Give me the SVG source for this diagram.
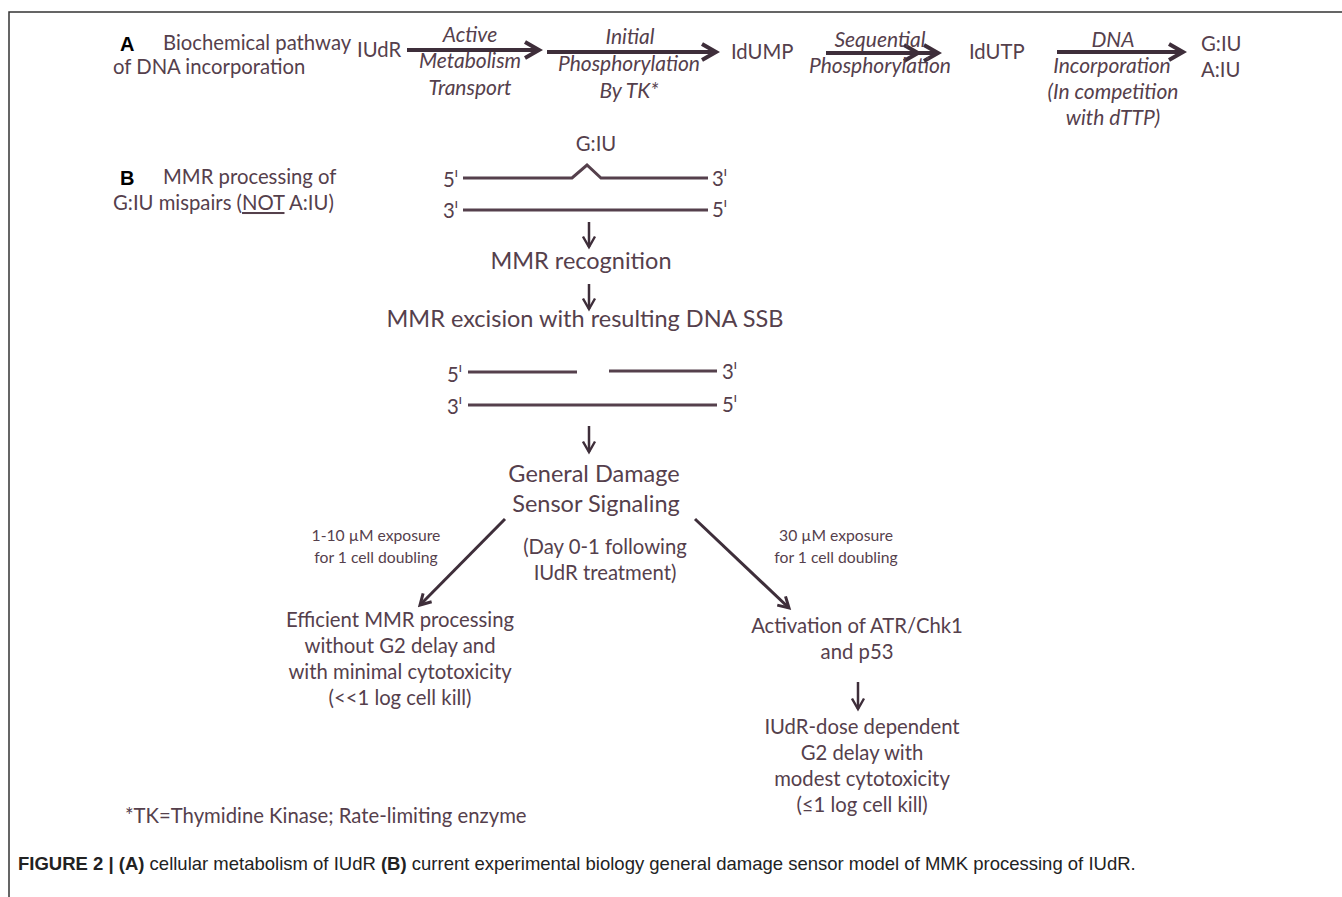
<svg xmlns="http://www.w3.org/2000/svg" width="1342" height="897" viewBox="0 0 1342 897">
<defs>
<style>
text{font-family:Lato,"Open Sans","Liberation Sans",sans-serif;fill:#55404c}
.it{font-style:italic;font-size:21px}
.n{font-size:20.3px}
.m{font-size:23.5px}
.s{font-size:15.7px}
.c{text-anchor:middle}
.lab{font-family:"Liberation Sans",Arial,sans-serif;font-weight:bold;fill:#000;font-size:20px}
.cap{font-family:"Liberation Sans",Arial,sans-serif;font-size:18.5px;fill:#222}
.b{font-weight:bold}
.ar{stroke:#3e2e3a;stroke-width:4;fill:none}
.dn{stroke:#3e2e3a;stroke-width:2.5;fill:none}
.st{stroke:#55404c;stroke-width:3;fill:none}
</style>
<marker id="h" viewBox="0 0 10 10" refX="8" refY="5" markerWidth="5" markerHeight="5" orient="auto" markerUnits="strokeWidth">
<path d="M1,1 L8,5 L1,9" fill="none" stroke="#3e2e3a" stroke-width="2"/>
</marker>
<marker id="hd" viewBox="0 0 10 10" refX="8" refY="5" markerWidth="6" markerHeight="6" orient="auto" markerUnits="strokeWidth">
<path d="M1,1 L8,5 L1,9" fill="none" stroke="#3e2e3a" stroke-width="1.6"/>
</marker>
</defs>
<rect width="1342" height="897" fill="#fff"/>
<path d="M9,897 V12 H1342" fill="none" stroke="#333" stroke-width="1.5"/>

<g id="panelA">
<text class="lab" x="120" y="51">A</text>
<text class="n" x="163" y="50">Biochemical pathway</text>
<text class="n" x="113" y="74">of DNA incorporation</text>
</g>
<g id="iudr"><text class="n" x="357" y="57">IUdR</text></g>
<g id="idump"><text class="n" x="731" y="59">IdUMP</text></g>
<g id="idutp"><text class="n" x="969" y="59">IdUTP</text></g>
<g id="giu-aiu">
<text class="n" x="1201" y="51">G:IU</text>
<text class="n" x="1201" y="77">A:IU</text>
</g>

<g id="panelB">
<text class="lab" x="120" y="185">B</text>
<text class="n" x="163" y="184">MMR processing of</text>
<text class="n" x="113" y="210">G:IU mispairs (<tspan text-decoration="underline">NOT</tspan> A:IU)</text>
</g>

<g id="dna1">
<text class="n c" x="596" y="151">G:IU</text>
<text class="n" x="443" y="187">5ˡ</text>
<text class="n" x="712" y="186">3ˡ</text>
<text class="n" x="443" y="218">3ˡ</text>
<text class="n" x="712" y="217">5ˡ</text>
<path class="st" d="M463,178 H572 L587,165 L601,178 H708"/>
<path class="st" d="M463,210 H708"/>
</g>
<g id="recog"><text class="m c" x="581" y="269">MMR recognition</text></g>
<g id="excision"><text class="m c" x="585" y="327">MMR excision with resulting DNA SSB</text></g>
<g id="dna2">
<text class="n" x="447" y="382">5ˡ</text>
<text class="n" x="722" y="379">3ˡ</text>
<text class="n" x="447" y="414">3ˡ</text>
<text class="n" x="722" y="412">5ˡ</text>
<path class="st" d="M468,372 H577 M609,371 H717"/>
<path class="st" d="M468,405 H717"/>
</g>
<g id="sensor">
<text class="m c" x="594" y="482">General Damage</text>
<text class="m c" x="596" y="512">Sensor Signaling</text>
</g>
<g id="day">
<text class="n c" x="605" y="554">(Day 0-1 following</text>
<text class="n c" x="605" y="580">IUdR treatment)</text>
</g>
<g id="efficient">
<text class="n c" x="400" y="627">Efficient MMR processing</text>
<text class="n c" x="400" y="653">without G2 delay and</text>
<text class="n c" x="400" y="679">with minimal cytotoxicity</text>
<text class="n c" x="400" y="705">(&lt;&lt;1 log cell kill)</text>
</g>
<g id="activation">
<text class="n c" x="857" y="633">Activation of ATR/Chk1</text>
<text class="n c" x="857" y="659">and p53</text>
</g>
<g id="g2delay">
<text class="n c" x="862" y="734">IUdR-dose dependent</text>
<text class="n c" x="862" y="760">G2 delay with</text>
<text class="n c" x="862" y="786">modest cytotoxicity</text>
<text class="n c" x="862" y="812">(≤1 log cell kill)</text>
</g>
<g id="footnote"><text class="n" x="125" y="823">*TK=Thymidine Kinase; Rate-limiting enzyme</text></g>

<g id="connectors">
<line class="ar" x1="407" y1="50" x2="539" y2="50" marker-end="url(#h)"/>
<line class="ar" x1="547" y1="52" x2="716" y2="52" marker-end="url(#h)"/>
<line class="ar" x1="826" y1="53" x2="918" y2="53" marker-end="url(#h)"/>
<line class="ar" x1="910" y1="53" x2="938" y2="53" marker-end="url(#h)"/>
<line class="ar" x1="1057" y1="52" x2="1183" y2="52" marker-end="url(#h)"/>
<line class="dn" x1="589" y1="222" x2="589" y2="247" marker-end="url(#hd)"/>
<line class="dn" x1="589" y1="284" x2="589" y2="309" marker-end="url(#hd)"/>
<line class="dn" x1="589" y1="426" x2="589" y2="452" marker-end="url(#hd)"/>
<line class="dn" x1="858" y1="682" x2="858" y2="709" marker-end="url(#hd)"/>
<line class="ar" style="stroke-width:3" x1="505" y1="519" x2="420" y2="605" marker-end="url(#h)"/>
<line class="ar" style="stroke-width:3" x1="695" y1="519" x2="789" y2="608" marker-end="url(#h)"/>
<g class="it">
<text class="c" x="470" y="42">Active</text>
<text class="c" x="470" y="68">Metabolism</text>
<text class="c" x="470" y="95">Transport</text>
<text class="c" x="630" y="44">Initial</text>
<text class="c" x="629" y="71">Phosphorylation</text>
<text class="c" x="629" y="98">By TK*</text>
<text class="c" x="880" y="47">Sequential</text>
<text class="c" x="880" y="73">Phosphorylation</text>
<text class="c" x="1113" y="47">DNA</text>
<text class="c" x="1112" y="73">Incorporation</text>
<text class="c" x="1113" y="99">(In competition</text>
<text class="c" x="1113" y="125">with dTTP)</text>
</g>
<text class="s c" x="376" y="541">1-10 µM exposure</text>
<text class="s c" x="376" y="563">for 1 cell doubling</text>
<text class="s c" x="836" y="541">30 µM exposure</text>
<text class="s c" x="836" y="563">for 1 cell doubling</text>
</g>

<g id="caption">
<text class="cap" x="18" y="870"><tspan class="b">FIGURE 2 | (A)</tspan> cellular metabolism of IUdR <tspan class="b">(B)</tspan> current experimental biology general damage sensor model of MMK processing of IUdR.</text>
</g>
</svg>
